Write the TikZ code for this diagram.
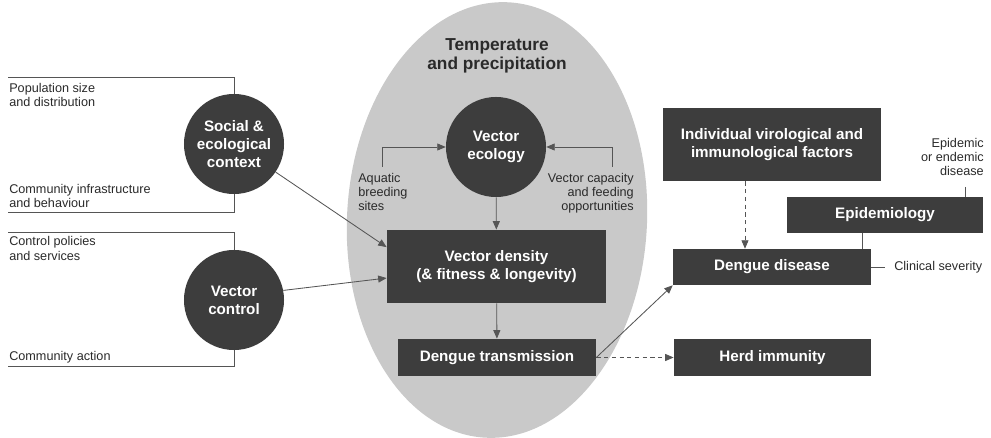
\documentclass[tikz,border=0pt]{standalone}
\usepackage{fontspec}
\setmainfont{Liberation Sans}
\usetikzlibrary{arrows.meta}

\definecolor{boxgray}{HTML}{3D3D3D}
\definecolor{linegray}{HTML}{555555}
\definecolor{ovalgray}{HTML}{C9C9C9}
\definecolor{textgray}{HTML}{2A2A2A}

\begin{document}
\begin{tikzpicture}[x=0.025cm, y=-0.025cm,
    darkcirc/.style={circle, fill=boxgray, text=white, align=center,
      font=\bfseries\fontsize{10.8}{12.8}\selectfont, minimum size=2.5cm, inner sep=0pt},
    darkbox/.style={rectangle, fill=boxgray, text=white, align=center,
      font=\bfseries\fontsize{10.8}{12.8}\selectfont, inner sep=0pt},
    note/.style={font=\fontsize{9}{10}\selectfont, text=textgray, inner sep=0pt},
    link/.style={draw=linegray, line width=0.6pt},
    arr/.style={link, -{Triangle[length=6pt,width=5pt]}},
    darr/.style={arr, dash pattern=on 3pt off 2.5pt}]
      \useasboundingbox (0,0) rectangle (991,438);
      \clip (0,0) rectangle (991,438);
      \fill [ovalgray, rotate around={-3:(497,220)}] (497,220) ellipse [x radius=150, y radius=218];
      \node [font=\bfseries\fontsize{12.3}{13.8}\selectfont, text=textgray, align=center]
        (tempprec) at (497,56) {Temperature\\and precipitation};
      \node [darkcirc] (ecology) at (496,147) {Vector\\ecology};
      \node [darkcirc] (social) at (234,144) {Social \&\\ecological\\context};
      \node [darkcirc] (control) at (234,300) {Vector\\control};
      \node [darkbox, minimum width=5.48cm, minimum height=1.83cm] (density) at (496.5,266.5)
        {Vector density\\(\& fitness \& longevity)};
      \node [darkbox, minimum width=4.95cm, minimum height=0.93cm] (transmission) at (497,357.5)
        {Dengue transmission};
      \node [darkbox, minimum width=5.45cm, minimum height=1.83cm] (indiv) at (772,144.5)
        {Individual virological and\\immunological factors};
      \node [darkbox, minimum width=4.95cm, minimum height=0.9cm] (disease) at (772,267)
        {Dengue disease};
      \node [darkbox, minimum width=4.9cm, minimum height=0.9cm] (epid) at (885,215)
        {Epidemiology};
      \node [darkbox, minimum width=4.93cm, minimum height=0.93cm] (herd) at (772.5,357.5)
        {Herd immunity};
      \node [note, anchor=north west, align=left] (popul) at (9,83)
        {Population size\\and distribution};
      \node [note, anchor=north west, align=left] (infra) at (9,184)
        {Community infrastructure\\and behaviour};
      \node [note, anchor=north west, align=left] (policies) at (9,236.5)
        {Control policies\\and services};
      \node [note, anchor=north west, align=left] (action) at (9,351)
        {Community action};
      \node [note, anchor=north west, align=left] (aquatic) at (358,173)
        {Aquatic\\breeding\\sites};
      \node [note, anchor=north east, align=right] (capacity) at (634,173)
        {Vector capacity\\and feeding\\opportunities};
      \node [note, anchor=north east, align=right] (epidemic) at (984,138)
        {Epidemic\\or endemic\\disease};
      \node [note, anchor=west] (clinical) at (894,267) {Clinical severity};
      \coordinate (popstart) at (8,77);
      \coordinate (infstart) at (8,212);
      \coordinate (polstart) at (8,232);
      \coordinate (actstart) at (8,366);
      \draw [link] (popstart) -| (social.north);
      \draw [link] (infstart) -| (social.south);
      \draw [link] (polstart) -| (control.north);
      \draw [link] (actstart) -| (control.south);
      \coordinate (aquastart) at (382,167);
      \coordinate (capastart) at (612,167);
      \draw [arr] (aquastart) |- (ecology.west);
      \draw [arr] (capastart) |- (ecology.east);
      \draw [arr] (ecology) -- (density);
      \draw [arr] (social.-34) -- (density.170);
      \draw [arr] (control.11) -- (density.186);
      \draw [arr] (density) -- (transmission);
      \draw [arr] (transmission.east) -- (disease.south west);
      \draw [darr] (transmission) -- (herd);
      \draw [darr] ([xshift=-0.675cm]indiv.south) -- ([xshift=-0.675cm]disease.north);
      \draw [link] ([xshift=-0.575cm]epid.south) coordinate (epidfoot) -- (epidfoot |- disease.north);
      \coordinate (epidemline) at (965,187);
      \draw [link] (epidemline) -- (epidemline |- epid.north);
      \draw [link] (disease.east) -- ([xshift=-0.22cm]clinical.west);
    \end{tikzpicture}
\end{document}
